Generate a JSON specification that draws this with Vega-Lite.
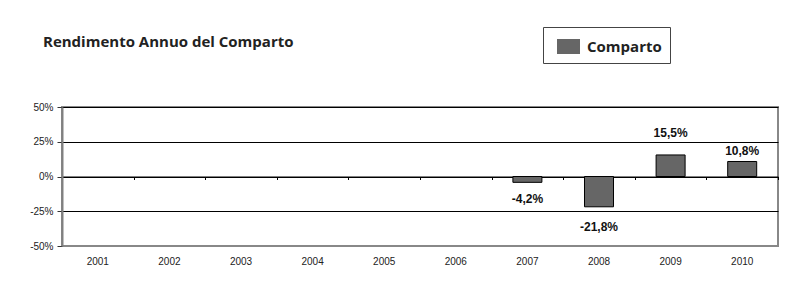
{
  "$schema": "https://vega.github.io/schema/vega-lite/v6.json",
  "width": 716,
  "height": 139,
  "autosize": {"type": "none"},
  "padding": {"left": 62, "top": 107, "right": 19, "bottom": 45},
  "background": "white",
  "config": {
    "locale": {"number": {"decimal": ",", "thousands": ".", "grouping": [3], "currency": ["", " €"], "minus": "-"}},
    "view": {"stroke": "#888888", "strokeWidth": 2},
    "font": "Liberation Sans"
  },
  "title": {
    "text": "Rendimento Annuo del Comparto",
    "anchor": "start",
    "frame": "group",
    "font": "Open Sans",
    "fontSize": 15,
    "fontWeight": "bold",
    "color": "#222222",
    "dx": -19,
    "offset": 0,
    "dy": 35,
    "baseline": "alphabetic"
  },
  "data": {
    "values": [
      {"anno": "2001", "rendimento": null, "serie": "Comparto"},
      {"anno": "2002", "rendimento": null, "serie": "Comparto"},
      {"anno": "2003", "rendimento": null, "serie": "Comparto"},
      {"anno": "2004", "rendimento": null, "serie": "Comparto"},
      {"anno": "2005", "rendimento": null, "serie": "Comparto"},
      {"anno": "2006", "rendimento": null, "serie": "Comparto"},
      {"anno": "2007", "rendimento": -0.042, "serie": "Comparto"},
      {"anno": "2008", "rendimento": -0.218, "serie": "Comparto"},
      {"anno": "2009", "rendimento": 0.155, "serie": "Comparto"},
      {"anno": "2010", "rendimento": 0.108, "serie": "Comparto"}
    ]
  },
  "encoding": {
    "y": {
      "field": "rendimento", "type": "quantitative", "title": null,
      "scale": {"domain": [-0.5, 0.5], "nice": false, "zero": false},
      "axis": {
        "values": [-0.5, -0.25, 0, 0.25, 0.5],
        "format": ".0%",
        "title": null,
        "domainColor": "#808080",
        "domainWidth": 2,
        "tickColor": "#333333",
        "tickSize": 5,
        "labelFont": "Liberation Sans",
        "labelFontSize": 10,
        "labelColor": "#222222",
        "labelPadding": 4,
        "labelOverlap": false,
        "grid": true,
        "gridColor": {"condition": {"test": "datum.value === -0.5", "value": "#888888"}, "value": "#000000"},
        "gridOpacity": 1,
        "gridWidth": 1
      }
    }
  },
  "resolve": {"axis": {"x": "independent"}},
  "layer": [
    {
      "mark": {"type": "bar", "stroke": "#000000", "strokeWidth": 1, "size": 29},
      "encoding": {
        "x": {
          "field": "anno", "type": "ordinal", "title": null,
          "scale": {"domain": ["2001","2002","2003","2004","2005","2006","2007","2008","2009","2010"], "paddingInner": 0, "paddingOuter": 0},
          "axis": {"title": null, "domain": false, "ticks": false, "labelPadding": 10, "labelFont": "Liberation Sans", "labelFontSize": 10, "labelColor": "#222222", "labelAngle": 0, "grid": false}
        },
        "color": {
          "field": "serie", "type": "nominal",
          "scale": {"domain": ["Comparto"], "range": ["#666666"]},
          "legend": {
            "orient": "none", "legendX": 481, "legendY": -80, "title": null,
            "strokeColor": "#444444", "fillColor": "white", "padding": 8,
            "symbolType": "M-1,-0.65L1,-0.65L1,0.65L-1,0.65Z", "symbolSize": 529,
            "symbolOffset": 6, "labelOffset": 7, "symbolStrokeWidth": 0, "symbolOpacity": 1,
            "labelFont": "Open Sans", "labelFontSize": 15, "labelFontWeight": "bold", "labelColor": "#222222"
          }
        }
      }
    },
    {
      "transform": [{"filter": "datum.anno == '2009'"}],
      "mark": {"type": "text", "dy": -22, "font": "Liberation Sans", "fontSize": 12, "fontWeight": "bold", "color": "#111111", "baseline": "middle"},
      "encoding": {
        "x": {
          "field": "anno", "type": "ordinal", "title": null,
          "scale": {"domain": ["2001","2002","2003","2004","2005","2006","2007","2008","2009","2010"], "paddingInner": 0, "paddingOuter": 0},
          "axis": {"orient": "bottom", "offset": -69.5, "labels": false, "title": null, "domain": true, "domainColor": "#000000", "domainWidth": 1, "ticks": true, "tickBand": "extent", "tickSize": 3, "tickColor": "#000000", "grid": false}
        },
        "text": {"field": "rendimento", "type": "quantitative", "format": ".1%"}
      }
    },
    {
      "transform": [{"filter": "datum.anno == '2010'"}],
      "mark": {"type": "text", "dy": -10, "font": "Liberation Sans", "fontSize": 12, "fontWeight": "bold", "color": "#111111", "baseline": "middle"},
      "encoding": {
        "x": {
          "field": "anno", "type": "ordinal", "title": null,
          "scale": {"domain": ["2001","2002","2003","2004","2005","2006","2007","2008","2009","2010"], "paddingInner": 0, "paddingOuter": 0},
          "axis": null
        },
        "text": {"field": "rendimento", "type": "quantitative", "format": ".1%"}
      }
    },
    {
      "transform": [{"filter": "datum.anno == '2007'"}],
      "mark": {"type": "text", "dy": 17, "font": "Liberation Sans", "fontSize": 12, "fontWeight": "bold", "color": "#111111", "baseline": "middle"},
      "encoding": {
        "x": {
          "field": "anno", "type": "ordinal", "title": null,
          "scale": {"domain": ["2001","2002","2003","2004","2005","2006","2007","2008","2009","2010"], "paddingInner": 0, "paddingOuter": 0},
          "axis": null
        },
        "text": {"field": "rendimento", "type": "quantitative", "format": ".1%"}
      }
    },
    {
      "transform": [{"filter": "datum.anno == '2008'"}],
      "mark": {"type": "text", "dy": 20, "font": "Liberation Sans", "fontSize": 12, "fontWeight": "bold", "color": "#111111", "baseline": "middle"},
      "encoding": {
        "x": {
          "field": "anno", "type": "ordinal", "title": null,
          "scale": {"domain": ["2001","2002","2003","2004","2005","2006","2007","2008","2009","2010"], "paddingInner": 0, "paddingOuter": 0},
          "axis": null
        },
        "text": {"field": "rendimento", "type": "quantitative", "format": ".1%"}
      }
    }
  ]
}
